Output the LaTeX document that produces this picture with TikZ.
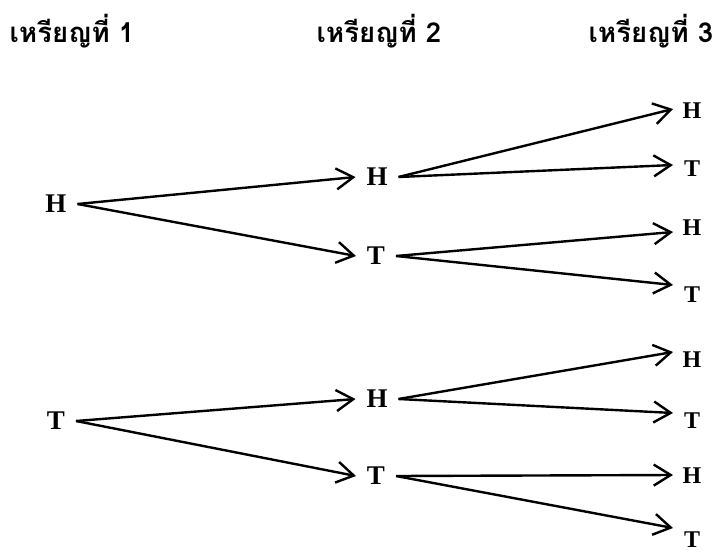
\documentclass[tikz,border=0pt]{standalone}
\usepackage{fontspec}
\setmainfont{Liberation Serif}
\newfontfamily\thaifont[Script=Thai]{Loma}
\usetikzlibrary{arrows.meta}
\begin{document}
\begin{tikzpicture}[x=1pt, y=-1pt,
	coin/.style={font=\thaifont\bfseries\fontsize{27.5}{27.5}\selectfont, anchor=base},
	face/.style={font=\bfseries\fontsize{27}{27}\selectfont, inner sep=0pt, outer sep=11pt},
	leaf/.style={font=\bfseries\fontsize{24}{24}\selectfont, inner sep=0pt},
	arr/.style={-{Straight Barb[length=17pt,width=21pt]}, line width=2.4pt}]
\useasboundingbox (0, 0) rectangle (715, 554);
% headings
\node[coin]  at (72, 42) (c1) {เหรียญที่ 1};
\node[coin]  at (379, 42) (c2) {เหรียญที่ 2};
\node[coin]  at (651, 42) (c3) {เหรียญที่ 3};
% first coin
\node[face]  at (56, 204) (h) {H};
\node[face]  at (56, 421) (t) {T};
% second coin
\node[face]  at (377, 177) (hh) {H};
\node[face]  at (376, 256) (ht) {T};
\node[face]  at (377, 399) (th) {H};
\node[face]  at (376, 476) (tt) {T};
% third coin
\node[leaf]  at (692, 111) (hhh) {H};
\node[leaf]  at (692, 169) (hht) {T};
\node[leaf]  at (692, 228) (hth) {H};
\node[leaf]  at (692, 295) (htt) {T};
\node[leaf]  at (692, 360) (thh) {H};
\node[leaf]  at (692, 421) (tht) {T};
\node[leaf]  at (692, 476) (tth) {H};
\node[leaf]  at (692, 540) (ttt) {T};
\coordinate (a1) at (673, 109);
\coordinate (a2) at (673, 165);
\coordinate (a3) at (673, 232);
\coordinate (a4) at (673, 285);
\coordinate (a5) at (673, 352);
\coordinate (a6) at (673, 413);
\coordinate (a7) at (673, 475);
\coordinate (a8) at (673, 528);
\path[arr]  (h.east) edge (hh.west)
			(h.east) edge (ht.west)
			(t.east) edge (th.west)
			(t.east) edge (tt.west)
			(hh.east) edge (a1)
			(hh.east) edge (a2)
			(ht.east) edge (a3)
			(ht.east) edge (a4)
			(th.east) edge (a5)
			(th.east) edge (a6)
			(tt.east) edge (a7)
			(tt.east) edge (a8);
\end{tikzpicture}
\end{document}
